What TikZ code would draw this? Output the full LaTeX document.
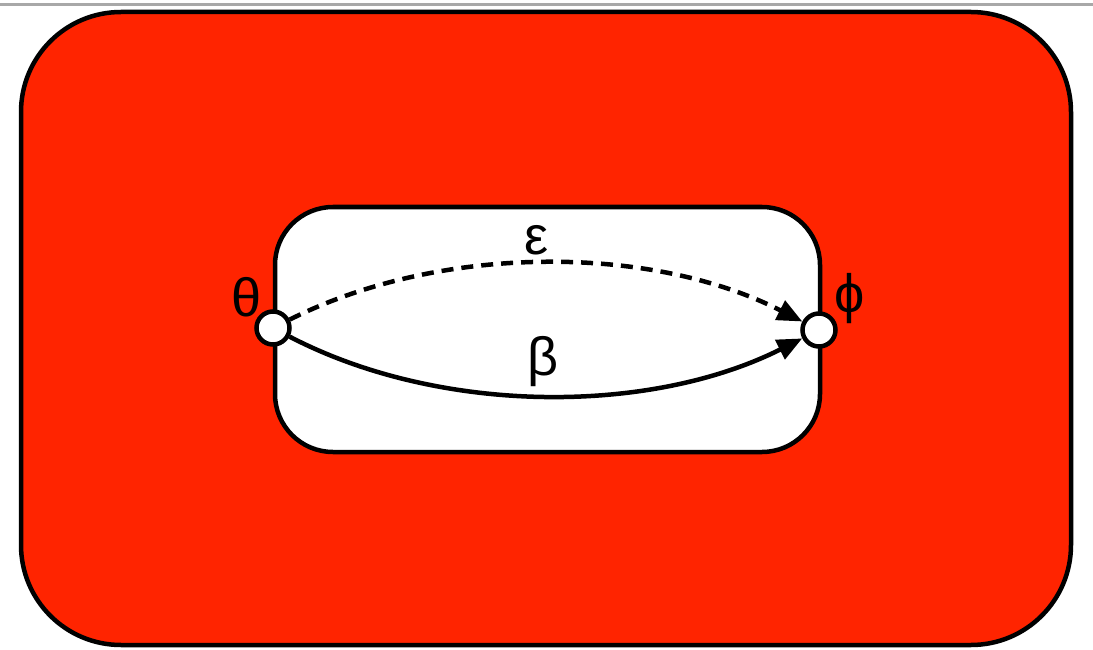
\documentclass[tikz,border=0pt]{standalone}
\usepackage{fontspec}
\setmainfont{Liberation Sans}
\usetikzlibrary{arrows.meta}
\definecolor{bgred}{RGB}{255,36,0}
\definecolor{rulegray}{RGB}{168,168,168}
\tikzset{
  port/.style={circle,draw=black,fill=white,line width=4.5pt,minimum size=33pt,inner sep=0pt},
  lbl/.style={font=\fontsize{54}{60}\selectfont,inner sep=0pt},
  conn/.style={line width=4.5pt,-{Triangle[length=25pt,width=21pt]}},
  box/.style={line width=4.5pt,draw=black}
}
\begin{document}
\begin{tikzpicture}[x=1pt,y=-1pt]
\useasboundingbox (0,0) rectangle (1093,650);
\fill[white] (0,0) rectangle (1093,650);
\draw[rulegray,line width=3pt] (0,5) -- (1093,5);
\draw[box,fill=bgred,rounded corners=100pt] (21,12) rectangle (1071,645);
\draw[box,fill=white,rounded corners=58pt] (275,207) rectangle (820,452);
\node[port] (th) at (273,328) {};
\node[port] (ph) at (819,330) {};
\node[lbl] (thl) at (247,297) {θ};
\node[lbl] (phl) at (850,299) {ϕ};
\node[lbl] (eps) at (537,240) {ε};
\node[lbl] (bet) at (543,362) {β};
\draw[conn,dashed,dash pattern=on 12pt off 8pt] (th) .. controls (440,244) and (650,244) .. (ph);
\draw[conn] (th) .. controls (440,415) and (650,415) .. (ph);
\end{tikzpicture}
\end{document}
